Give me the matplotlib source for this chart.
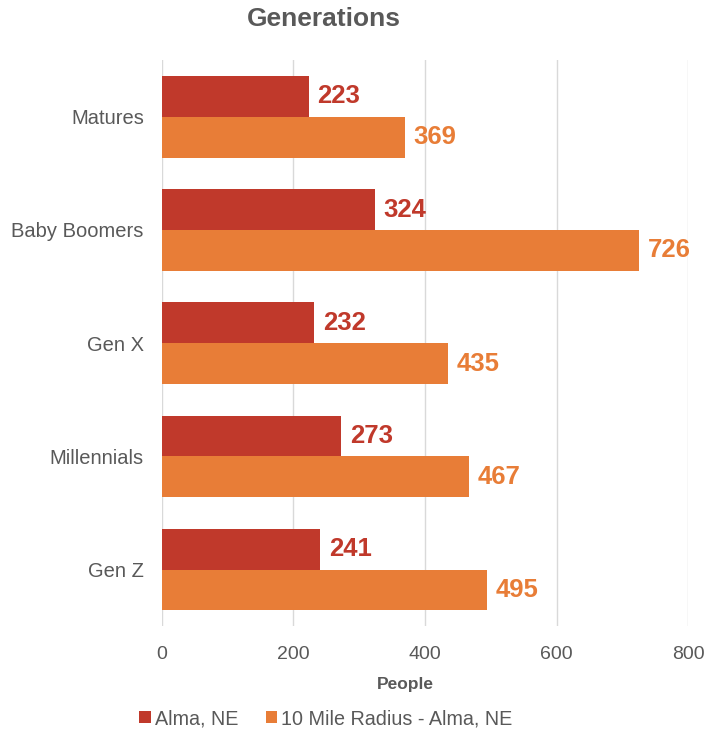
import matplotlib.pyplot as plt
import numpy as np

plt.rcParams['font.family'] = ['Liberation Sans', 'DejaVu Sans']

categories = ['Matures', 'Baby Boomers', 'Gen X', 'Millennials', 'Gen Z']
alma = [223, 324, 232, 273, 241]
radius = [369, 726, 435, 467, 495]
series_names = ['Alma, NE', '10 Mile Radius - Alma, NE']
colors = ['#C0392B', '#E87D37']
text_gray = '#595959'

fig = plt.figure(figsize=(7.16, 7.34), dpi=100)
ax = fig.add_axes([0.226, 0.147, 0.735, 0.771])

y = np.arange(len(categories))
h = 0.36
b1 = ax.barh(y - h / 2, alma, height=h, color=colors[0], label=series_names[0])
b2 = ax.barh(y + h / 2, radius, height=h, color=colors[1], label=series_names[1])

for bars, c in [(b1, colors[0]), (b2, colors[1])]:
    ax.bar_label(bars, padding=6, color=c, fontsize=18.5, fontweight='bold')

ax.set_xlim(0, 800)
ax.set_ylim(len(categories) - 0.5, -0.5)
ax.set_xticks([0, 200, 400, 600, 800])
ax.set_yticks(y)
ax.set_yticklabels(categories)
ax.tick_params(axis='both', length=0, labelcolor=text_gray)
ax.tick_params(axis='x', pad=14, labelsize=14)
ax.tick_params(axis='y', pad=13, labelsize=14.5)
ax.xaxis.grid(True, color='#D9D9D9', linewidth=1)
ax.set_axisbelow(True)
for s in ax.spines.values():
    s.set_visible(False)

fig.text(0.566, 0.067, 'People', ha='center', va='center', fontsize=12.5,
         fontweight='bold', color=text_gray)
fig.suptitle('Generations', x=0.452, y=0.99, fontsize=19, fontweight='bold', color=text_gray)

fig.legend(loc='center', bbox_to_anchor=(0.455, 0.021), ncol=2, frameon=False,
           fontsize=14.2, labelcolor=text_gray, handlelength=0.6, handleheight=0.6,
           handletextpad=0.2, columnspacing=1.4)

fig.savefig('out.png', dpi=100)
